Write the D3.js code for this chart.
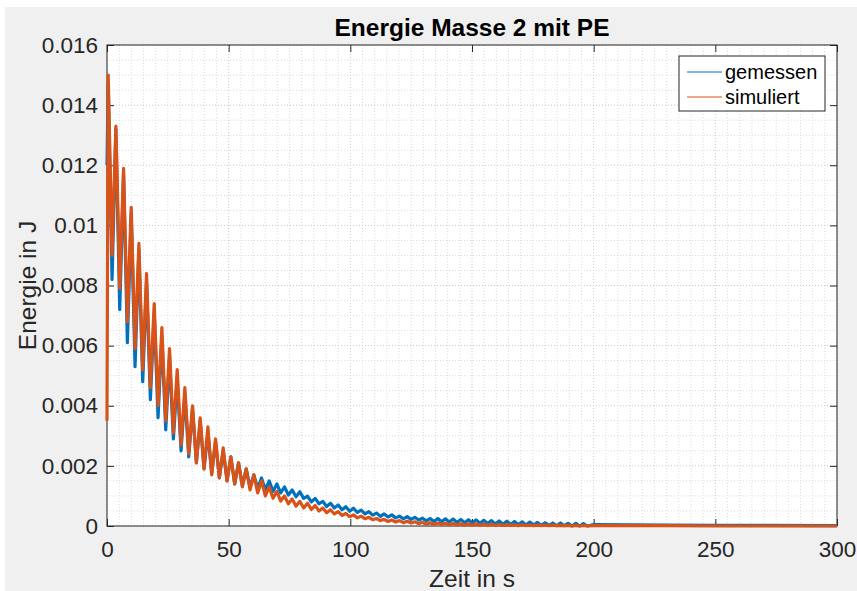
<!DOCTYPE html>
<html>
<head>
<meta charset="utf-8">
<script src="https://cdn.jsdelivr.net/npm/d3@7"></script>
<style>
  html, body { margin: 0; padding: 0; background: #fff; }
  svg { display: block; font-family: "Liberation Sans", Arial, Helvetica, sans-serif; }
  .axis text { fill: #262626; font-size: 22.5px; }
  .axis line, .axis path { stroke: #262626; }
</style>
</head>
<body>
<div id="chart"></div>
<script>
// peak / trough times of each oscillation cycle (s)
const spitzenZeit = [0.5, 3.65, 6.8, 9.95, 13.1, 16.25, 19.4, 22.55, 25.7, 28.85,
  32.0, 35.15, 38.3, 41.45, 44.6, 47.75, 50.9, 54.05, 57.2, 60.35,
  63.5, 66.65, 69.8, 72.95, 76.1, 79.25, 82.4, 85.55, 88.7, 91.85,
  95.0, 98.15, 101.3, 104.45, 107.6, 110.75, 113.9, 117.05, 120.2, 123.35,
  126.5, 129.65, 132.8, 135.95, 139.1, 142.25, 145.4, 148.55, 151.7, 154.85,
  158.0, 161.15, 164.3, 167.45, 170.6, 173.75, 176.9, 180.05, 183.2, 186.35,
  189.5, 192.65, 195.8];
const talZeit = [2.08, 5.23, 8.38, 11.53, 14.68, 17.83, 20.98, 24.13, 27.28, 30.43,
  33.58, 36.73, 39.88, 43.03, 46.18, 49.33, 52.48, 55.63, 58.78, 61.93,
  65.08, 68.23, 71.38, 74.53, 77.68, 80.83, 83.98, 87.13, 90.28, 93.43,
  96.58, 99.73, 102.88, 106.03, 109.18, 112.33, 115.48, 118.63, 121.78, 124.93,
  128.08, 131.23, 134.38, 137.53, 140.68, 143.83, 146.98, 150.13, 153.28, 156.43,
  159.58, 162.73, 165.88, 169.03, 172.18, 175.33, 178.48, 181.63, 184.78, 187.93,
  191.08, 194.23, 197.38];

// gemessen (measured) energy, J
const gemessenStart = 0.0120;
const gemessenMax = [0.0147, 0.0132, 0.0117, 0.0104, 0.0092, 0.0081, 0.0071, 0.0063, 0.0056, 0.0049,
  0.0044, 0.0039, 0.0035, 0.0031, 0.0028, 0.0025, 0.0023, 0.0021, 0.0019, 0.0017,
  0.0016, 0.0015, 0.0014, 0.0013, 0.0012, 0.00114, 0.00099, 0.00092, 0.00082, 0.00076,
  0.00070, 0.00064, 0.00059, 0.00053, 0.00048, 0.00043, 0.00040, 0.00037, 0.00033, 0.00031,
  0.00029, 0.00026, 0.00025, 0.00025, 0.00024, 0.00023, 0.00022, 0.00021, 0.00020, 0.00019,
  0.00018, 0.00017, 0.00016, 0.00015, 0.00014, 0.00013, 0.00012, 0.00011, 0.00010, 0.00010,
  0.00009, 0.00009, 0.00008];
const gemessenMin = [0.0082, 0.0072, 0.0061, 0.0053, 0.0048, 0.0042, 0.0036, 0.0032, 0.0029, 0.0025,
  0.0023, 0.0021, 0.0019, 0.00175, 0.0016, 0.0015, 0.0014, 0.00135, 0.0013, 0.00125,
  0.0012, 0.00115, 0.0011, 0.00103, 0.00097, 0.00092, 0.00080, 0.00074, 0.00065, 0.00060,
  0.00054, 0.00049, 0.00045, 0.00040, 0.00036, 0.00032, 0.00030, 0.00027, 0.00024, 0.00022,
  0.00020, 0.00017, 0.00015, 0.00014, 0.00013, 0.00012, 0.00011, 0.00010, 0.00009, 0.00008,
  0.00007, 0.00006, 0.00005, 0.00004, 0.00003, 0.00003, 0.00002, 0.00002, 0.00001, 0.00001,
  0.0, 0.0, 0.0];

// simuliert (simulated) energy, J
const simuliertStart = 0.0035;
const simuliertMax = [0.0150, 0.0133, 0.0119, 0.0106, 0.0094, 0.0084, 0.0074, 0.0066, 0.0059, 0.0052,
  0.0046, 0.0040, 0.0036, 0.0033, 0.0029, 0.0026, 0.0023, 0.0021, 0.0019, 0.0017,
  0.0015, 0.0013, 0.00115, 0.0010, 0.0009, 0.00082, 0.00076, 0.00068, 0.00060, 0.00054,
  0.00048, 0.00042, 0.00037, 0.00033, 0.00029, 0.00025, 0.00022, 0.00020, 0.00018, 0.00016,
  0.00014, 0.00012, 0.00011, 0.00010, 0.00009, 0.00008, 0.00007, 0.00007, 0.00006, 0.00006,
  0.00005, 0.00005, 0.00004, 0.00004, 0.00004, 0.00003, 0.00003, 0.00003, 0.00003, 0.00002,
  0.00002, 0.00002, 0.00002];
const simuliertMin = [0.0090, 0.0079, 0.0068, 0.0059, 0.0052, 0.0046, 0.0040, 0.0035, 0.0031, 0.0027,
  0.0024, 0.0021, 0.0019, 0.0017, 0.0016, 0.0015, 0.0014, 0.0013, 0.0012, 0.0011,
  0.00100, 0.00092, 0.00083, 0.00074, 0.00066, 0.00060, 0.00055, 0.00050, 0.00044, 0.00040,
  0.00035, 0.00031, 0.00027, 0.00024, 0.00021, 0.00018, 0.00015, 0.00013, 0.00011, 0.00010,
  0.00008, 0.00006, 0.00005, 0.00005, 0.00004, 0.00004, 0.00003, 0.00003, 0.00003, 0.00002,
  0.00002, 0.00002, 0.00002, 0.00001, 0.00001, 0.00001, 0.00001, 0.00001, 0.00001, 0.00001,
  0.0, 0.0, 0.0];

// decayed tail after ~200 s
const restZeit = [200, 215, 230, 250, 270, 300];
const restGemessen = [0.00005, 0.00004, 0.00003, 0.00002, 0.00002, 0.00001];
const restSimuliert = [0.00001, 0.00001, 0.00001, 0.0, 0.0, 0.0];

const xTicks = [0, 50, 100, 150, 200, 250, 300];
const yTicks = [0, 0.002, 0.004, 0.006, 0.008, 0.01, 0.012, 0.014, 0.016];
const legendLabels = ['gemessen', 'simuliert'];
const colors = ['#0072BD', '#D95319'];

const width = 857, height = 591;
const margin = { top: 45, right: 20, bottom: 65, left: 107 };
const w = 837 - margin.left;
const h = 526 - margin.top;

const svg = d3.select('#chart').append('svg')
  .attr('width', width).attr('height', height);

// figure background (screenshot has a thin white strip top/left)
svg.append('rect').attr('x', 5).attr('y', 7)
  .attr('width', width - 5).attr('height', height - 7).attr('fill', '#f0f0f0');

const g = svg.append('g').attr('transform', `translate(${margin.left},${margin.top})`);

const x = d3.scaleLinear().domain([0, 300]).range([0, w]);
const y = d3.scaleLinear().domain([0, 0.016]).range([h, 0]);

g.append('rect').attr('width', w).attr('height', h).attr('fill', '#fff');

// grid (minor + major, all dotted)
const xMinor = d3.range(0, 301, 5);
const yMinor = d3.range(0, 33).map(i => i * 0.0005);
g.append('g').selectAll('line').data(xMinor).join('line')
  .attr('x1', d => x(d)).attr('x2', d => x(d)).attr('y1', 0).attr('y2', h)
  .attr('stroke', d => d % 50 === 0 ? '#c8c8c8' : '#dadada')
  .attr('stroke-dasharray', '1,2').attr('stroke-width', 1);
g.append('g').selectAll('line').data(yMinor).join('line')
  .attr('x1', 0).attr('x2', w).attr('y1', d => y(d)).attr('y2', d => y(d))
  .attr('stroke', (d, i) => i % 4 === 0 ? '#c8c8c8' : '#dadada')
  .attr('stroke-dasharray', '1,2').attr('stroke-width', 1);

// axes with inward ticks on all sides
const fmtY = d => d === 0 ? '0' : d3.format('.3~f')(d);
g.append('g').attr('class', 'axis').attr('transform', `translate(0,${h})`)
  .call(d3.axisBottom(x).tickValues(xTicks).tickSizeInner(-7).tickSizeOuter(0).tickPadding(15))
  .call(a => a.select('.domain').remove());
g.append('g').attr('class', 'axis')
  .call(d3.axisLeft(y).tickValues(yTicks).tickFormat(fmtY).tickSizeInner(-7).tickSizeOuter(0).tickPadding(9))
  .call(a => a.select('.domain').remove());
g.append('g').attr('class', 'axis')
  .call(d3.axisTop(x).tickValues(xTicks).tickFormat('').tickSizeInner(-7).tickSizeOuter(0))
  .call(a => a.select('.domain').remove());
g.append('g').attr('class', 'axis').attr('transform', `translate(${w},0)`)
  .call(d3.axisRight(y).tickValues(yTicks).tickFormat('').tickSizeInner(-7).tickSizeOuter(0))
  .call(a => a.select('.domain').remove());
g.append('rect').attr('width', w).attr('height', h)
  .attr('fill', 'none').attr('stroke', '#262626').attr('stroke-width', 1);

// series
function buildSeries(start, maxV, minV, rest){
  const pts = [{ t: 0, v: start }];
  spitzenZeit.forEach((t, i) => {
    pts.push({ t, v: maxV[i] });
    pts.push({ t: talZeit[i], v: minV[i] });
  });
  restZeit.forEach((t, i) => pts.push({ t, v: rest[i] }));
  return pts;
}
const series = [
  buildSeries(gemessenStart, gemessenMax, gemessenMin, restGemessen),
  buildSeries(simuliertStart, simuliertMax, simuliertMin, restSimuliert)
];
const line = d3.line().x(d => x(d.t)).y(d => y(d.v));
series.forEach((s, i) => {
  g.append('path').datum(s)
    .attr('fill', 'none').attr('stroke', colors[i])
    .attr('stroke-width', 3.2).attr('stroke-linejoin', 'round')
    .attr('d', line);
});

// title + labels
svg.append('text').attr('x', margin.left + w / 2).attr('y', 36)
  .attr('text-anchor', 'middle').attr('font-weight', 'bold').attr('font-size', 24.5)
  .attr('fill', '#000').text('Energie Masse 2 mit PE');
svg.append('text').attr('x', margin.left + w / 2).attr('y', 587)
  .attr('text-anchor', 'middle').attr('font-size', 24.5).attr('fill', '#262626')
  .text('Zeit in s');
svg.append('text').attr('transform', `translate(36,${margin.top + h / 2}) rotate(-90)`)
  .attr('text-anchor', 'middle').attr('font-size', 24.5).attr('fill', '#262626')
  .text('Energie in J');

// legend
const lg = svg.append('g').attr('transform', 'translate(679,56)');
lg.append('rect').attr('width', 146).attr('height', 55)
  .attr('fill', '#fff').attr('stroke', '#262626').attr('stroke-width', 1);
legendLabels.forEach((lab, i) => {
  const yy = 16 + i * 25;
  lg.append('line').attr('x1', 8).attr('x2', 43).attr('y1', yy).attr('y2', yy)
    .attr('stroke', colors[i]).attr('stroke-width', 1.2);
  lg.append('text').attr('x', 46).attr('y', yy + 6.5)
    .attr('font-size', 20).attr('fill', '#000').text(lab);
});
</script>
</body>
</html>
